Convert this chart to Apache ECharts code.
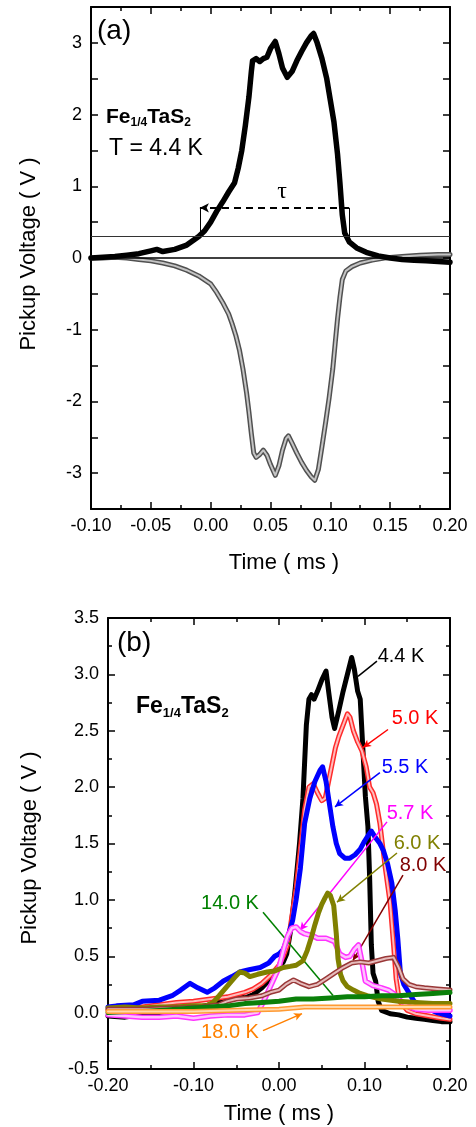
<!DOCTYPE html>
<html><head><meta charset="utf-8">
<script src="https://cdn.jsdelivr.net/npm/echarts@6/dist/echarts.min.js"></script>
<style>html,body{margin:0;padding:0;background:#fff}#c{width:476px;height:1127px}</style>
</head><body><div id="c"></div>
<script>
// ---------- Panel (a) data : Fe1/4TaS2, T = 4.4 K ----------
const A_UP_T = [-0.100,-0.090,-0.080,-0.070,-0.060,-0.050,-0.045,-0.040,-0.030,-0.020,-0.010,-0.005,0.000,0.005,0.010,0.015,0.020,0.023,0.026,0.029,0.032,0.034,0.035,0.038,0.041,0.044,0.047,0.050,0.054,0.057,0.060,0.064,0.068,0.072,0.076,0.080,0.084,0.086,0.089,0.093,0.097,0.100,0.103,0.106,0.108,0.110,0.112,0.116,0.122,0.130,0.140,0.150,0.160,0.170,0.180,0.190,0.200];
const A_UP_V = [0.00,0.01,0.02,0.04,0.06,0.10,0.12,0.09,0.12,0.18,0.30,0.38,0.50,0.65,0.78,0.92,1.05,1.25,1.50,1.85,2.25,2.60,2.75,2.78,2.74,2.78,2.80,2.92,3.02,2.85,2.65,2.52,2.60,2.75,2.88,3.00,3.10,3.13,3.00,2.78,2.50,2.20,1.90,1.45,1.05,0.60,0.35,0.22,0.14,0.08,0.03,0.00,-0.02,-0.03,-0.04,-0.05,-0.06];
const A_LO_T = [-0.100,-0.090,-0.080,-0.070,-0.060,-0.050,-0.040,-0.030,-0.020,-0.010,0.000,0.005,0.010,0.015,0.018,0.021,0.024,0.027,0.030,0.032,0.034,0.036,0.038,0.041,0.044,0.047,0.050,0.054,0.057,0.060,0.063,0.065,0.068,0.072,0.076,0.080,0.084,0.087,0.090,0.093,0.096,0.099,0.102,0.104,0.106,0.108,0.110,0.113,0.118,0.125,0.135,0.145,0.160,0.175,0.190,0.200];
const A_LO_V = [0.00,0.00,0.01,0.00,-0.02,-0.04,-0.07,-0.11,-0.17,-0.25,-0.36,-0.48,-0.62,-0.78,-0.92,-1.08,-1.28,-1.55,-1.88,-2.15,-2.45,-2.72,-2.78,-2.74,-2.68,-2.75,-2.88,-3.03,-2.90,-2.68,-2.52,-2.48,-2.58,-2.72,-2.85,-2.96,-3.05,-3.10,-2.95,-2.63,-2.30,-1.95,-1.55,-1.20,-0.85,-0.55,-0.30,-0.18,-0.12,-0.07,-0.03,0.00,0.02,0.04,0.05,0.05];
// reference levels in (a)
const A_BASE = 0;          // zero line
const A_THRESH = 0.3;      // threshold line
const A_TAU_LEVEL = 0.7;   // tau dashed level
const A_TAU_START = -0.009;
const A_TAU_END = 0.1156;

// ---------- Panel (b) data ----------
const B_T44 = [-0.200,-0.180,-0.160,-0.140,-0.120,-0.100,-0.080,-0.060,-0.050,-0.040,-0.030,-0.020,-0.010,0.000,0.005,0.009,0.014,0.019,0.024,0.028,0.032,0.035,0.038,0.041,0.045,0.050,0.055,0.058,0.062,0.065,0.070,0.075,0.080,0.085,0.088,0.092,0.095,0.098,0.101,0.104,0.106,0.108,0.110,0.113,0.116,0.120,0.130,0.140,0.150,0.160,0.170,0.180,0.190,0.200];
const B_V44 = [-0.03,-0.04,-0.02,0.00,0.02,0.04,0.07,0.12,0.15,0.13,0.16,0.22,0.30,0.40,0.45,0.52,0.75,1.10,1.50,1.90,2.55,2.78,2.82,2.78,2.85,2.95,3.03,2.85,2.62,2.52,2.68,2.85,3.00,3.15,3.05,2.85,2.78,2.35,1.92,1.65,1.20,0.60,0.35,0.28,0.10,0.02,-0.01,-0.02,-0.04,-0.05,-0.06,-0.07,-0.08,-0.08];
const B_T50 = [-0.200,-0.180,-0.160,-0.140,-0.120,-0.100,-0.080,-0.060,-0.040,-0.030,-0.020,-0.010,0.000,0.005,0.010,0.015,0.020,0.025,0.030,0.035,0.040,0.045,0.050,0.054,0.058,0.062,0.066,0.070,0.075,0.080,0.083,0.087,0.092,0.097,0.102,0.106,0.110,0.114,0.118,0.124,0.130,0.134,0.137,0.141,0.150,0.160,0.175,0.190,0.200];
const B_V50 = [0.02,0.03,0.05,0.07,0.09,0.10,0.12,0.14,0.18,0.21,0.26,0.33,0.42,0.50,0.60,0.85,1.10,1.45,1.80,2.00,2.03,1.95,1.88,1.90,2.05,2.20,2.35,2.45,2.55,2.65,2.62,2.50,2.40,2.32,2.18,2.00,1.95,1.85,1.68,1.30,0.97,0.60,0.30,0.10,0.02,-0.01,-0.03,-0.05,-0.06];
const B_T55 = [-0.200,-0.190,-0.170,-0.160,-0.140,-0.125,-0.115,-0.104,-0.095,-0.084,-0.075,-0.065,-0.055,-0.046,-0.035,-0.022,-0.012,-0.005,0.000,0.005,0.010,0.016,0.020,0.025,0.030,0.036,0.042,0.048,0.051,0.055,0.060,0.063,0.067,0.071,0.077,0.083,0.089,0.095,0.100,0.105,0.108,0.113,0.118,0.122,0.127,0.132,0.136,0.139,0.142,0.146,0.150,0.158,0.170,0.185,0.200];
const B_V55 = [0.05,0.06,0.07,0.10,0.11,0.15,0.20,0.26,0.22,0.18,0.22,0.28,0.32,0.36,0.38,0.40,0.44,0.50,0.52,0.56,0.66,0.82,1.00,1.28,1.68,1.90,2.05,2.15,2.18,2.05,1.80,1.65,1.50,1.41,1.37,1.37,1.40,1.45,1.52,1.58,1.61,1.55,1.50,1.44,1.32,1.15,0.90,0.65,0.35,0.25,0.20,0.10,0.05,0.00,-0.03];
const B_T57 = [-0.200,-0.180,-0.160,-0.140,-0.120,-0.100,-0.080,-0.060,-0.040,-0.025,-0.018,-0.012,-0.006,0.000,0.005,0.010,0.015,0.020,0.025,0.030,0.040,0.045,0.055,0.065,0.071,0.078,0.083,0.088,0.093,0.097,0.101,0.110,0.120,0.128,0.134,0.140,0.150,0.160,0.175,0.190,0.200];
const B_V57 = [-0.02,-0.03,-0.04,-0.04,-0.03,-0.05,-0.03,-0.02,-0.02,0.00,0.10,0.20,0.30,0.40,0.55,0.68,0.75,0.76,0.72,0.70,0.68,0.66,0.66,0.63,0.52,0.49,0.50,0.56,0.60,0.45,0.28,0.24,0.22,0.20,0.17,0.12,0.06,0.03,0.02,0.02,0.02];
const B_T60 = [-0.200,-0.180,-0.160,-0.140,-0.120,-0.100,-0.085,-0.077,-0.070,-0.060,-0.052,-0.046,-0.040,-0.034,-0.025,-0.014,-0.005,0.005,0.013,0.020,0.028,0.033,0.038,0.042,0.046,0.050,0.054,0.057,0.060,0.064,0.067,0.069,0.072,0.075,0.080,0.087,0.095,0.103,0.120,0.140,0.160,0.180,0.200];
const B_V60 = [0.04,0.05,0.04,0.05,0.05,0.06,0.06,0.09,0.15,0.24,0.31,0.36,0.35,0.32,0.34,0.36,0.37,0.40,0.41,0.42,0.46,0.55,0.67,0.78,0.88,0.96,1.02,1.06,1.04,0.95,0.70,0.48,0.34,0.28,0.23,0.20,0.17,0.15,0.12,0.10,0.09,0.08,0.08];
const B_T80 = [-0.200,-0.160,-0.120,-0.090,-0.070,-0.061,-0.050,-0.035,-0.020,-0.010,0.000,0.008,0.017,0.025,0.035,0.045,0.055,0.065,0.075,0.085,0.095,0.105,0.115,0.125,0.134,0.140,0.145,0.152,0.160,0.170,0.185,0.200];
const B_V80 = [0.03,0.03,0.04,0.05,0.07,0.10,0.12,0.13,0.15,0.18,0.20,0.25,0.29,0.26,0.23,0.25,0.30,0.35,0.40,0.44,0.45,0.44,0.46,0.48,0.49,0.40,0.30,0.25,0.23,0.22,0.21,0.20];
const B_T140 = [-0.200,-0.180,-0.160,-0.140,-0.120,-0.100,-0.080,-0.060,-0.040,-0.020,0.000,0.020,0.040,0.060,0.080,0.100,0.120,0.140,0.160,0.180,0.200];
const B_V140 = [0.00,0.01,0.01,0.02,0.03,0.04,0.05,0.06,0.08,0.09,0.10,0.12,0.12,0.13,0.14,0.14,0.15,0.15,0.16,0.17,0.18];
const B_T180 = [-0.200,-0.150,-0.100,-0.050,0.000,0.030,0.060,0.100,0.150,0.200];
const B_V180 = [0.01,0.01,0.01,0.02,0.03,0.05,0.05,0.05,0.05,0.05];

// tick label sets
const A_X_TICKS = [-0.10,-0.05,0.00,0.05,0.10,0.15,0.20];
const A_Y_TICKS = [-3,-2,-1,0,1,2,3];
const B_X_TICKS = [-0.20,-0.10,0.00,0.10,0.20];
const B_Y_TICKS = [-0.5,0.0,0.5,1.0,1.5,2.0,2.5,3.0,3.5];

// annotation arrows in panel (b) (data coords: text end -> curve end)
const B_ARROWS = [
  {c:'#000000', from:[0.1146,3.117], to:[0.0924,2.983], head:false},
  {c:'#ff0000', from:[0.1275,2.511], to:[0.0982,2.351], head:true},
  {c:'#0000ff', from:[0.1180,2.128], to:[0.0655,1.825], head:true},
  {c:'#ff00ff', from:[0.1263,1.692], to:[0.0246,0.730], head:true},
  {c:'#808000', from:[0.1380,1.416], to:[0.0678,0.980], head:true},
  {c:'#800000', from:[0.1450,1.220], to:[0.0865,0.463], head:true},
  {c:'#008000', from:[-0.0187,0.890], to:[0.0632,0.151], head:false},
  {c:'#ff8000', from:[-0.0187,-0.160], to:[0.0269,-0.009], head:true}
];
const B_LABELS = [
  {t:'4.4 K', c:'#000000', x:401, y:656},
  {t:'5.0 K', c:'#ff0000', x:415, y:718},
  {t:'5.5 K', c:'#0000ff', x:405, y:767},
  {t:'5.7 K', c:'#ff00ff', x:410, y:813},
  {t:'6.0 K', c:'#808000', x:417, y:843},
  {t:'8.0 K', c:'#800000', x:423, y:865},
  {t:'14.0 K', c:'#008000', x:230, y:903},
  {t:'18.0 K', c:'#ff8000', x:230, y:1032}
];

const FF = '"Liberation Sans", Arial, Helvetica, sans-serif';
const pts = (ts, vs) => ts.slice(0, Math.min(ts.length, vs.length)).map((t, i) => [t, vs[i]]);
const near = (v, arr) => arr.some(a => Math.abs(a - v) < 1e-6);

function xAx(gi, min, max, interval, pos, showLabel, ticks, dec) {
  return {
    type:'value', gridIndex:gi, min, max, interval, position:pos,
    axisLine:{show:true, onZero:false, lineStyle:{color:'#000', width:2}},
    axisTick:{show:true, inside:true, length:7, lineStyle:{color:'#000', width:1.5}},
    minorTick:{show:true, splitNumber:2, length:4, lineStyle:{color:'#000', width:1.5}},
    splitLine:{show:false}, minorSplitLine:{show:false},
    axisLabel:{show:showLabel, showMinLabel:true, showMaxLabel:true, margin:8, color:'#000', fontSize:18, fontFamily:FF,
      formatter: v => near(v, ticks) ? v.toFixed(dec) : ''}
  };
}
function yAx(gi, min, max, interval, pos, showLabel, ticks, dec, minor) {
  return {
    type:'value', gridIndex:gi, min, max, interval, position:pos,
    axisLine:{show:true, onZero:false, lineStyle:{color:'#000', width:2}},
    axisTick:{show:true, inside:true, length:7, lineStyle:{color:'#000', width:1.5}},
    minorTick:{show:minor, splitNumber:2, length:4, lineStyle:{color:'#000', width:1.5}},
    splitLine:{show:false}, minorSplitLine:{show:false},
    axisLabel:{show:showLabel, showMinLabel:true, showMaxLabel:true, margin:9, color:'#000', fontSize:18, fontFamily:FF,
      formatter: v => near(v, ticks) ? v.toFixed(dec) : ''}
  };
}

function solid(ts, vs, color, w, xi, yi, z) {
  return {type:'line', xAxisIndex:xi, yAxisIndex:yi, data:pts(ts, vs), showSymbol:false, silent:true, z:z,
    animation:false, emphasis:{disabled:true},
    lineStyle:{color, width:w, join:'round', cap:'round'}, itemStyle:{color}};
}
function hollow(ts, vs, color, w, innerColor, inner, xi, yi, z) {
  return [solid(ts, vs, color, w, xi, yi, z), solid(ts, vs, innerColor, inner, xi, yi, z)];
}

const arrowData = B_ARROWS.map(a => [
  {coord:a.from, symbol:'none', lineStyle:{color:a.c, width:1.5, type:'solid'}},
  {coord:a.to, symbol: a.head ? 'arrow' : 'none', symbolSize:[6,8]}
]);

const series = [
  // panel a reference lines
  {type:'line', xAxisIndex:0, yAxisIndex:0, data:[], silent:true, z:1,
    markLine:{silent:true, animation:false, symbol:['none','none'], label:{show:false},
      data:[
        {yAxis:A_BASE, lineStyle:{color:'#000', width:1.5, type:'solid'}},
        {yAxis:A_THRESH, lineStyle:{color:'#333', width:1, type:'solid'}}
      ]}},
  ...hollow(A_LO_T, A_LO_V, '#505050', 5, '#c4c4c4', 2, 0, 0, 2),
  solid(A_UP_T, A_UP_V, '#000000', 5.5, 0, 0, 3),
  {type:'line', xAxisIndex:0, yAxisIndex:0, data:[], silent:true, z:5,
    markLine:{silent:true, animation:false, label:{show:false}, symbolSize:[7,9],
      data:[
        [{coord:[A_TAU_START, A_THRESH], symbol:'none', lineStyle:{color:'#000', width:1, type:'solid'}}, {coord:[A_TAU_START, A_TAU_LEVEL], symbol:'none'}],
        [{coord:[A_TAU_END, A_THRESH], symbol:'none', lineStyle:{color:'#000', width:1, type:'solid'}}, {coord:[A_TAU_END, A_TAU_LEVEL], symbol:'none'}],
        [{coord:[A_TAU_END, A_TAU_LEVEL], symbol:'none', lineStyle:{color:'#000', width:2, type:[7,5]}}, {coord:[A_TAU_START, A_TAU_LEVEL], symbol:'arrow', symbolSize:[7,9]}]
      ]}},
  // panel b curves
  solid(B_T44, B_V44, '#000000', 5, 2, 2, 2),
  ...hollow(B_T50, B_V50, '#ff2a2a', 5, '#ffbcbc', 2, 2, 2, 3),
  solid(B_T55, B_V55, '#0000ff', 5, 2, 2, 4),
  ...hollow(B_T57, B_V57, '#ff33ff', 5.5, '#ffc2ff', 2.5, 2, 2, 5),
  solid(B_T60, B_V60, '#808000', 5, 2, 2, 6),
  ...hollow(B_T80, B_V80, '#993838', 5, '#e6bcbc', 2, 2, 2, 7),
  solid(B_T140, B_V140, '#0a800a', 5, 2, 2, 8),
  ...hollow(B_T180, B_V180, '#ff9a33', 5, '#ffd9ad', 2, 2, 2, 9),
  {type:'line', xAxisIndex:2, yAxisIndex:2, data:[], silent:true, z:10,
    markLine:{silent:true, animation:false, label:{show:false}, symbolSize:[6,8], data:arrowData}}
];

const graphic = [
  {type:'text', x:97, y:31, z:100, style:{text:'(a)', font:'28px '+FF, fill:'#000', textAlign:'left', textVerticalAlign:'middle'}},
  {type:'text', x:106, y:117, z:100, style:{text:'{m|Fe}{s|1/4}{m|TaS}{s|2}', textAlign:'left', textVerticalAlign:'middle', fill:'#000',
    rich:{m:{fontSize:21, fontWeight:'bold', fontFamily:FF, lineHeight:24, verticalAlign:'middle'},
          s:{fontSize:12, fontWeight:'bold', fontFamily:FF, lineHeight:11, verticalAlign:'bottom'}}}},
  {type:'text', x:109, y:149, z:100, style:{text:'T = 4.4 K', font:'23px '+FF, fill:'#000', textAlign:'left', textVerticalAlign:'middle'}},
  {type:'text', x:282, y:192, z:100, style:{text:'τ', font:'24px "Liberation Serif", "DejaVu Serif", serif', fill:'#000', textAlign:'center', textVerticalAlign:'middle'}},
  {type:'text', x:29, y:254, rotation:Math.PI/2, z:100, style:{text:'Pickup Voltage ( V )', font:'22px '+FF, fill:'#000', textAlign:'center', textVerticalAlign:'middle'}},
  {type:'text', x:284, y:563, z:100, style:{text:'Time ( ms )', font:'22px '+FF, fill:'#000', textAlign:'center', textVerticalAlign:'middle'}},
  {type:'text', x:117, y:643, z:100, style:{text:'(b)', font:'28px '+FF, fill:'#000', textAlign:'left', textVerticalAlign:'middle'}},
  {type:'text', x:136, y:707, z:100, style:{text:'{m|Fe}{s|1/4}{m|TaS}{s|2}', textAlign:'left', textVerticalAlign:'middle', fill:'#000',
    rich:{m:{fontSize:23, fontWeight:'bold', fontFamily:FF, lineHeight:26, verticalAlign:'middle'},
          s:{fontSize:13, fontWeight:'bold', fontFamily:FF, lineHeight:12, verticalAlign:'bottom'}}}},
  {type:'text', x:30, y:848, rotation:Math.PI/2, z:100, style:{text:'Pickup Voltage ( V )', font:'22px '+FF, fill:'#000', textAlign:'center', textVerticalAlign:'middle'}},
  {type:'text', x:279, y:1114, z:100, style:{text:'Time ( ms )', font:'22px '+FF, fill:'#000', textAlign:'center', textVerticalAlign:'middle'}},
  ...B_LABELS.map(l => ({type:'text', x:l.x, y:l.y, z:100, style:{text:l.t, font:'20px '+FF, fill:l.c, textAlign:'center', textVerticalAlign:'middle'}}))
];

const chart = echarts.init(document.getElementById('c'), null, {renderer:'canvas'});
chart.setOption({
  animation:false,
  backgroundColor:'#ffffff',
  grid:[
    {left:91, top:7, width:359, height:502, containLabel:false},
    {left:108, top:618, width:342, height:451, containLabel:false}
  ],
  xAxis:[
    xAx(0, -0.10, 0.20, 0.05, 'bottom', true, A_X_TICKS, 2),
    xAx(0, -0.10, 0.20, 0.05, 'top', false, A_X_TICKS, 2),
    xAx(1, -0.20, 0.20, 0.10, 'bottom', true, B_X_TICKS, 2),
    xAx(1, -0.20, 0.20, 0.10, 'top', false, B_X_TICKS, 2)
  ],
  yAxis:[
    yAx(0, -3.5, 3.5, 0.5, 'left', true, A_Y_TICKS, 0, false),
    yAx(0, -3.5, 3.5, 0.5, 'right', false, A_Y_TICKS, 0, false),
    yAx(1, -0.5, 3.5, 0.5, 'left', true, B_Y_TICKS, 1, true),
    yAx(1, -0.5, 3.5, 0.5, 'right', false, B_Y_TICKS, 1, true)
  ],
  series,
  graphic
});
</script></body></html>
